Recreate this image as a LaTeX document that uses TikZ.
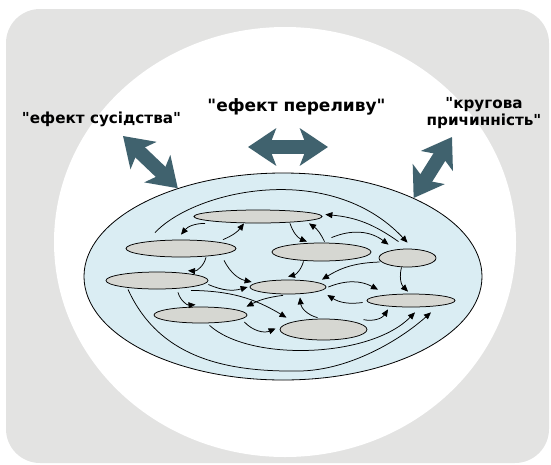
\documentclass[tikz,border=0pt]{standalone}
\usepackage{fontspec}
\setmainfont{DejaVu Sans}
\usetikzlibrary{arrows.meta,shapes.geometric,calc}

\definecolor{panelgray}{HTML}{E3E3E2}
\definecolor{sysblue}{HTML}{DAEDF3}
\definecolor{unitgray}{HTML}{D6D7D2}
\definecolor{flowteal}{HTML}{40626E}
\newcommand{\dq}{\textquotedbl}

\begin{document}
\begin{tikzpicture}[x=1pt,y=-1pt,
  unit/.style={ellipse,draw,fill=unitgray,line width=0.75pt,inner sep=0pt},
  lnk/.style={-{Triangle[length=7pt,width=6pt]},line width=0.75pt},
  flow/.style={draw=flowteal,line width=14pt,
    {Stealth[length=28pt,width=37pt,inset=7pt]}-{Stealth[length=28pt,width=37pt,inset=7pt]}},
  lbl/.style={font=\bfseries\fontsize{15.2}{17}\selectfont,align=center}]
\useasboundingbox (0,0) rectangle (551,464);
% background
\fill[panelgray,rounded corners=34] (6,9) rectangle (549,463);
\fill[white] (285,242) ellipse [x radius=231,y radius=215];
% the system
\node[ellipse,draw,fill=sysblue,line width=0.8pt,inner sep=0pt,
  minimum width=398,minimum height=207] (sys) at (283,276.5) {};
% units inside
\node[unit,minimum width=128,minimum height=13] (e1) at (258,216.5) {};
\node[unit,minimum width=110,minimum height=17] (e2) at (181,248.5) {};
\node[unit,minimum width=102,minimum height=17] (e3) at (157,280.5) {};
\node[unit,minimum width=99,minimum height=18] (e4) at (321.5,252) {};
\node[unit,minimum width=57,minimum height=18] (e5) at (407.5,258) {};
\node[unit,minimum width=76,minimum height=14] (e6) at (288,287) {};
\node[unit,minimum width=88,minimum height=13] (e7) at (411,300.5) {};
\node[unit,minimum width=93,minimum height=16] (e8) at (200.5,315) {};
\node[unit,minimum width=87,minimum height=21] (e9) at (323.5,329.5) {};
% links
\draw[lnk] ([xshift=-53]e1.south) to[bend right=25] ([yshift=5]e2.north);
\draw[lnk] ([xshift=42]e2.north) to[bend right=15] ([xshift=-14]e1.south);
\draw[lnk] ([xshift=25]e2.south) to[bend left=40] ([xshift=31,yshift=1]e3.north);
\draw[lnk] ([xshift=43,yshift=-3]e2.south) to[bend right=25] ([xshift=2,yshift=5]e6.west);
\draw[lnk] ([yshift=-4]e3.east) to[bend right=20] ([xshift=-2]e6.west);
\draw[lnk] ([xshift=21,yshift=-3]e3.south) to[bend right=40] ([xshift=-5,yshift=2]e8.north);
\draw[lnk] ([xshift=34,yshift=-1]e3.south) to[bend left=15] ([xshift=-37,yshift=1]e9.north);
\draw[lnk] ([xshift=-5,yshift=-1]e6.south) to[bend right=10] ([xshift=46]e8.north);
\draw[lnk] ([xshift=-3,yshift=-7]e8.east) to[bend right=35] ([xshift=-4,yshift=1]e9.west);
\draw[lnk] ([xshift=-29]e3.south) .. controls (160,360) and (230,372) .. (300,371)
  .. controls (350,370) and (400,340) .. ([xshift=20,yshift=-5]e7.south);
\draw[lnk] ([xshift=9,yshift=-2]e8.south) .. controls (250,362) and (370,358) .. ([xshift=4,yshift=-5]e7.south);
\draw[lnk] ([xshift=-6,yshift=1]e9.north) to[bend left=35] ([xshift=12,yshift=-3]e6.south);
\draw[lnk] ([xshift=40,yshift=-1]e9.north) to[bend right=35] ([xshift=-23,yshift=-2]e7.south);
\draw[lnk] ([xshift=-4,yshift=-2]e7.west) to[bend left=20] ([xshift=1,yshift=-8]e6.east);
\draw[lnk] ([xshift=2]e6.east) to[bend left=25] ([xshift=-33,yshift=4]e7.north);
\draw[lnk] ([xshift=-6]e5.south) to[bend right=30] ([xshift=-3,yshift=2]e7.north);
\draw[lnk] ([xshift=1,yshift=-4]e5.west) to[bend right=15] ([xshift=34]e6.north);
\draw[lnk] ([xshift=-18]e4.south) to[bend left=30] ([yshift=3]e6.north);
\draw[lnk] ([xshift=32]e1.south) to[bend right=25] ([xshift=-14.5,yshift=1]e4.north);
\draw[lnk] ([xshift=3,yshift=1]e4.north) to[bend right=15] ([xshift=51]e1.south);
\draw[lnk] ([xshift=10,yshift=5]e4.north) to[bend left=30] ([xshift=-19,yshift=4]e5.north);
\draw[lnk] ([xshift=-26,yshift=7]e2.north) .. controls (195,190) and (330,160) .. ([yshift=6]e5.north);
\draw[lnk] ([xshift=-9,yshift=7]e5.north) to[bend right=15] ([xshift=3,yshift=2]e1.east);
% effects from outside
\node[lbl,anchor=base] (nbr) at (101.5,123) {\dq ефект сусідства\dq};
\node[lbl,anchor=base,font=\bfseries\fontsize{17}{19}\selectfont] (spl) at (296.5,111) {\dq ефект переливу\dq};
\node[lbl] (circ) at (484,113.5) {\dq кругова\\причинність\dq};
\coordinate (nbrtip) at (123,136);
\coordinate (spla) at (248,147);
\coordinate (splb) at (328,147);
\coordinate (circtip) at (452,137);
\draw[flow] (nbrtip) -- (sys.140);
\draw[flow] (spla) -- (splb);
\draw[flow] (circtip) -- (sys.31);
\end{tikzpicture}
\end{document}
